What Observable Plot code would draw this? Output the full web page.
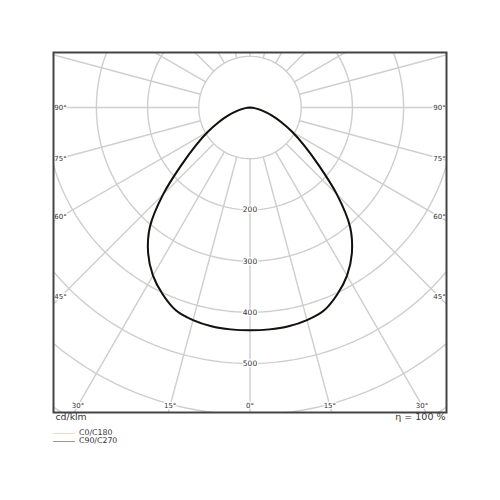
<!DOCTYPE html>
<html><head><meta charset="utf-8">
<script src="https://cdn.jsdelivr.net/npm/d3@7"></script>
<script src="https://cdn.jsdelivr.net/npm/@observablehq/plot@0.6"></script>
<style>
body{margin:0;background:#fff;font-family:"DejaVu Sans",sans-serif;}
#legend{margin-top:4px;font-size:7.8px;color:#333;}
.row{height:8px;line-height:8px;display:flex;align-items:center;}
.sw{width:22px;height:0;border-top:1px solid;margin-left:53px;margin-right:4px;}
</style></head><body>
<div id="chart"></div>
<div id="legend"></div>
<script>
// Data (cd/klm vs gamma angle in degrees)
const gammaDeg = [0,5,10,15,20,25,30,35,40,45,50,55,60,65,70,75,80,85,90];
const c0c180   = [435,435,434,430,422,403,379,347,304,240,175,129,95,67,45,26,13,5,0];
const c90c270  = [435,435,434,430,422,403,379,347,304,240,175,129,95,67,45,26,13,5,0];
const seriesNames  = ["C0/C180","C90/C270"];
const seriesColors = ["#f2d8bd","#9a9a9a"];
const ringValues  = [100,200,300,400,500,600,700];
const ringLabels  = [200,300,400,500];
const spokeAngles = d3.range(0,360,15);
const sideAngles  = [90,75,60,45];
const bottomAngles = [-30,-15,0,15,30];
const leftText  = "cd/klm";
const rightText = "η = 100 %";

const rad = d => d*Math.PI/180;
const k = 0.512;            // px per cd/klm
const W = 500, H = 425;
const mL = 53, mR = 54, mT = 52, mB = 13;
const xHalf = (W-mL-mR)/2/k;
const yTop = -(107-mT)/k, yBot = (H-mB-107)/k;

function polarCurve(vals, name){
  const pts = [];
  for (let i = gammaDeg.length-1; i >= 0; i--)
    pts.push({s:name, x:-vals[i]*Math.sin(rad(gammaDeg[i])), y:vals[i]*Math.cos(rad(gammaDeg[i]))});
  for (let i = 1; i < gammaDeg.length; i++)
    pts.push({s:name, x:vals[i]*Math.sin(rad(gammaDeg[i])), y:vals[i]*Math.cos(rad(gammaDeg[i]))});
  return pts;
}
const curveC0 = polarCurve(c0c180, seriesNames[0]);
const curveC90 = polarCurve(c90c270, seriesNames[1]);

const rings = ringValues.flatMap(r => d3.range(0,361,2).map(a => ({r, x:r*Math.sin(rad(a)), y:r*Math.cos(rad(a))})));
const spokes = spokeAngles.map(a => ({x1:100*Math.sin(rad(a)), y1:100*Math.cos(rad(a)), x2:900*Math.sin(rad(a)), y2:900*Math.cos(rad(a))}));

const inset = 7/k;
const xl = xHalf - inset;
const sideLabels = sideAngles.flatMap(a => [
  {t:a+"°", x:-xl, y: xl*Math.cos(rad(a))/Math.sin(rad(a))},
  {t:a+"°", x: xl, y: xl*Math.cos(rad(a))/Math.sin(rad(a))}
]);
const yb = yBot - inset;
const bottomLabels = bottomAngles.map(a => ({t:Math.abs(a)+"°", x: yb*Math.tan(rad(a)), y: yb}));

const txt = {fontFamily:"DejaVu Sans", fill:"#333", stroke:"white", strokeWidth:2.5, paintOrder:"stroke"};

const chart = Plot.plot({
  width: W, height: H,
  marginLeft: mL, marginRight: mR, marginTop: mT, marginBottom: mB,
  x: {domain:[-xHalf, xHalf], range:[mL, W-mR], axis:null},
  y: {domain:[yTop, yBot], range:[mT, H-mB], axis:null},
  style: {fontFamily:"DejaVu Sans", background:"white"},
  marks: [
    Plot.line(rings, {x:"x", y:"y", z:"r", stroke:"#cecece", strokeWidth:1.4, clip:true}),
    Plot.link(spokes, {x1:"x1", y1:"y1", x2:"x2", y2:"y2", stroke:"#cecece", strokeWidth:1.4, clip:true}),
    Plot.text(ringLabels, {x:0, y:d=>d, text:d=>String(d), fontSize:7.5, ...txt}),
    Plot.text(sideLabels, {x:"x", y:"y", text:"t", fontSize:7, ...txt}),
    Plot.text(bottomLabels, {x:"x", y:"y", text:"t", fontSize:7, ...txt}),
    Plot.line(curveC0, {x:"x", y:"y", stroke:seriesColors[0], strokeWidth:2, curve:"catmull-rom"}),
    Plot.line(curveC90, {x:"x", y:"y", stroke:"#111", strokeWidth:2, curve:"catmull-rom"}),
    Plot.frame({stroke:"#444", strokeWidth:2}),
    Plot.text([leftText], {frameAnchor:"bottom-left", textAnchor:"start", dy:7, dx:2, fontSize:9.3, fill:"#333"}),
    Plot.text([rightText], {frameAnchor:"bottom-right", textAnchor:"end", dy:7, dx:-1, fontSize:9.5, fill:"#333"})
  ]
});
document.getElementById("chart").appendChild(chart);

const leg = document.getElementById("legend");
seriesNames.forEach((n,i) => {
  const row = document.createElement("div"); row.className = "row";
  const sw = document.createElement("span"); sw.className = "sw"; sw.style.borderTopColor = seriesColors[i];
  const lab = document.createElement("span"); lab.textContent = n;
  row.appendChild(sw); row.appendChild(lab); leg.appendChild(row);
});
</script>
</body></html>
